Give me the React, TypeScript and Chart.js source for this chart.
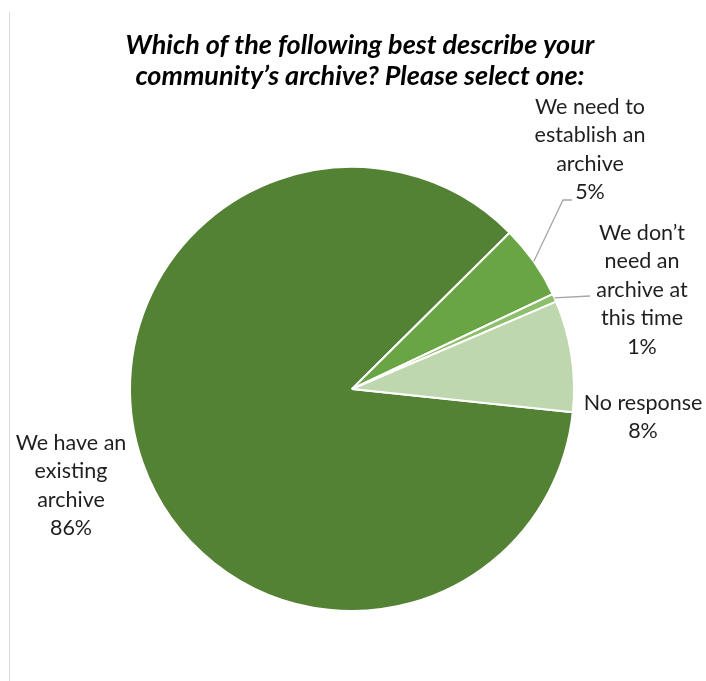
import React, { useEffect, useRef } from "react";
import { Chart, registerables } from "chart.js";

Chart.register(...registerables);

const categories: string[][] = [
  ["We have an", "existing", "archive"],
  ["We need to", "establish an", "archive"],
  ["We don’t", "need an", "archive at", "this time"],
  ["No response"],
];
const values: number[] = [85.9, 5.4, 0.6, 8.1];
const colors: string[] = ["#548235", "#6AA545", "#8DBE6C", "#BFD7AE"];
const titleLines: string[] = [
  "Which of the following best describe your",
  "community’s archive? Please select one:",
];

// layout (label anchors: center x, first line center y)
const labelAnchors = [
  { x: 71, y: 443 },
  { x: 590, y: 107 },
  { x: 642, y: 233 },
  { x: 643, y: 403 },
];
const leaderElbows: Record<number, { x: number; y: number }[]> = {
  1: [
    { x: 563, y: 200 },
    { x: 572, y: 200 },
  ],
  2: [{ x: 590, y: 296 }],
};
const LINE_H = 28.5;
const LABEL_FONT = "21.5px Lato";
const TITLE_FONT = "italic bold 27px Lato";

const labelPlugin = {
  id: "customLabels",
  afterDatasetsDraw(chart: any) {
    const ctx = chart.ctx as CanvasRenderingContext2D;
    const meta = chart.getDatasetMeta(0);
    const total = values.reduce((a, b) => a + b, 0);
    ctx.save();
    // title
    ctx.fillStyle = "#000000";
    ctx.font = TITLE_FONT;
    ctx.textAlign = "center";
    ctx.textBaseline = "alphabetic";
    titleLines.forEach((t, i) => ctx.fillText(t, 360, 54 + i * 31));

    // leader lines
    ctx.strokeStyle = "#A6A6A6";
    ctx.lineWidth = 1.3;
    Object.keys(leaderElbows).forEach((k) => {
      const i = Number(k);
      const arc = meta.data[i];
      const p = arc.getProps(["x", "y", "startAngle", "endAngle", "outerRadius"], true);
      const mid = (p.startAngle + p.endAngle) / 2;
      const sx = p.x + Math.cos(mid) * p.outerRadius;
      const sy = p.y + Math.sin(mid) * p.outerRadius;
      ctx.beginPath();
      ctx.moveTo(sx, sy);
      leaderElbows[i].forEach((pt) => ctx.lineTo(pt.x, pt.y));
      ctx.stroke();
    });

    // labels
    ctx.fillStyle = "#1F1F1F";
    ctx.font = LABEL_FONT;
    ctx.textAlign = "center";
    ctx.textBaseline = "middle";
    categories.forEach((lines, i) => {
      const pct = Math.round((values[i] / total) * 100) + "%";
      const all = [...lines, pct];
      const a = labelAnchors[i];
      all.forEach((t, j) => ctx.fillText(t, a.x, a.y + j * LINE_H));
    });
    ctx.restore();
  },
};

export default function App() {
  const ref = useRef<HTMLCanvasElement | null>(null);
  useEffect(() => {
    if (!ref.current) return;
    const chart = new Chart(ref.current, {
      type: "pie",
      data: {
        labels: categories,
        datasets: [
          {
            data: values,
            backgroundColor: colors,
            borderColor: "#FFFFFF",
            borderWidth: 2,
          },
        ],
      },
      options: {
        animation: false,
        responsive: false,
        rotation: 96,
        layout: { padding: { left: 129, right: 131, top: 166, bottom: 69 } },
        plugins: {
          legend: { display: false },
          tooltip: { enabled: false },
          title: { display: false },
        },
      },
      plugins: [labelPlugin],
    });
    return () => chart.destroy();
  }, []);
  return (
    <div style={{ position: "absolute", left: 0, top: 0, width: 706, height: 681, background: "#fff" }}>
      <div style={{ position: "absolute", left: 9, top: 12, width: 1, height: 669, background: "#D9D9D9" }} />
      <canvas ref={ref} width={706} height={681} style={{ position: "absolute", left: 0, top: 0 }} />
    </div>
  );
}
